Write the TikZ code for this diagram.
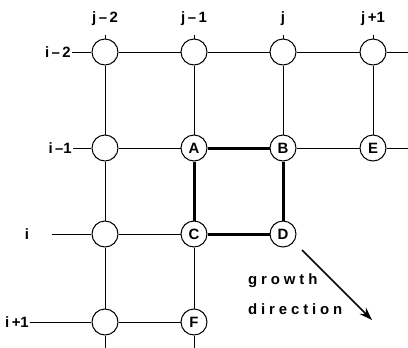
\documentclass[tikz,border=0pt]{standalone}
\usepackage{fontspec}
\setmainfont{Liberation Sans}
\usetikzlibrary{arrows.meta}

\begin{document}
\begin{tikzpicture}[
        x=1bp, y=-1bp,
        % styles for the grid
        grid_node/.style={draw, circle, fill=white, minimum size=26bp, inner sep=0pt, line width=1bp, font=\fontsize{15}{15}\selectfont\bfseries},
        grid_line/.style={line width=1bp},
        bold_line/.style={line width=3bp},
        idx_label/.style={font=\fontsize{15}{15}\selectfont\bfseries, inner sep=1pt},
        arrow/.style={-{Stealth[length=13bp, width=9bp]}, line width=1.6bp},
        note/.style={font=\fontsize{15}{15}\selectfont\bfseries\addfontfeature{LetterSpace=26}, anchor=west, inner sep=0pt}
    ]
    \useasboundingbox (0,0) rectangle (408,348);

    % === nodes of the grid ===
    \node (n11) [grid_node] at (105,52) {};
    \node (n12) [grid_node] at (194,52) {};
    \node (n13) [grid_node] at (283,52) {};
    \node (n14) [grid_node] at (373,52) {};

    \node (n21) [grid_node] at (105,148) {};
    \node (A)   [grid_node] at (194,148) {A};
    \node (B)   [grid_node] at (283,148) {B};
    \node (E)   [grid_node] at (373,148) {E};

    \node (n31) [grid_node] at (105,234) {};
    \node (C)   [grid_node] at (194,234) {C};
    \node (D)   [grid_node] at (283,234) {D};

    \node (n41) [grid_node] at (105,322) {};
    \node (F)   [grid_node] at (194,322) {F};

    % === index labels ===
    \node (cj2) [idx_label] at (105,19) {j\,--\,2};
    \node (cj1) [idx_label] at (194,19) {j\,--\,1};
    \node (cj0) [idx_label] at (283,19) {j};
    \node (cj3) [idx_label] at (373,19) {j\,+1};

    \node (ri2) [idx_label, anchor=east] at (72,52) {i\,--\,2};
    \node (ri1) [idx_label, anchor=east] at (73,148) {i\,--1};
    \node (ri0) [idx_label] at (27,234) {i};
    \node (ri3) [idx_label, anchor=east] at (30,322) {i\,+1};

    % free ends of the grid lines
    \coordinate (t1) at (105,35);
    \coordinate (t2) at (194,35);
    \coordinate (t3) at (283,35);
    \coordinate (t4) at (373,35);
    \coordinate (e1) at (408,52);
    \coordinate (e2) at (408,148);
    \coordinate (s3) at (52,234);
    \coordinate (b1) at (105,348);
    \coordinate (b2) at (194,348);

    % === rows ===
    \draw [grid_line] (ri2.east) -- (n11) -- (n12) -- (n13) -- (n14) -- (e1);
    \draw [grid_line] (ri1.east) -- (n21) -- (A);
    \draw [grid_line] (B) -- (E) -- (e2);
    \draw [grid_line] (s3) -- (n31) -- (C);
    \draw [grid_line] (ri3.east) -- (n41) -- (F);

    % === columns ===
    \draw [grid_line] (t1) -- (n11) -- (n21) -- (n31) -- (n41) -- (b1);
    \draw [grid_line] (t2) -- (n12) -- (A);
    \draw [grid_line] (C) -- (F) -- (b2);
    \draw [grid_line] (t3) -- (n13) -- (B);
    \draw [grid_line] (t4) -- (n14) -- (E);

    % === the bold square ===
    \draw [bold_line] (A) -- (B);
    \draw [bold_line] (B) -- (D);
    \draw [bold_line] (D) -- (C);
    \draw [bold_line] (C) -- (A);

    % === growth direction ===
    \coordinate (g0) at (302,250);
    \coordinate (g1) at (372,320);
    \draw [arrow] (g0) -- (g1);
    \node (txt1) [note] at (248,281) {growth};
    \node (txt2) [note] at (248,309) {direction};

\end{tikzpicture}
\end{document}
